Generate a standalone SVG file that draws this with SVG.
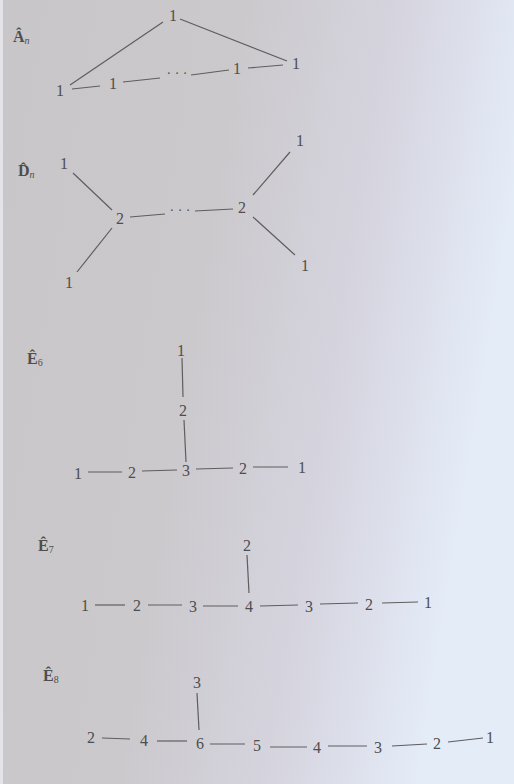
<svg xmlns="http://www.w3.org/2000/svg" width="514" height="784" viewBox="0 0 514 784">
<defs>
<linearGradient id="bg" x1="0" y1="0" x2="1" y2="0.25">
<stop offset="0" stop-color="#c8c6c8"/>
<stop offset="0.45" stop-color="#cbc9cc"/>
<stop offset="0.75" stop-color="#d6d5e0"/>
<stop offset="1" stop-color="#e4ecf8"/>
</linearGradient>
<style>
.n{font-family:"Liberation Serif","DejaVu Serif",serif;font-size:16px;fill:#4e4e4e;text-anchor:middle}
.lbl{font-family:"Liberation Serif","DejaVu Serif",serif;font-size:16px;font-weight:bold;fill:#4e4e4e}
.sub{font-size:10px;font-weight:normal;font-style:italic}
.subr{font-size:10px;font-weight:normal}
.e line{stroke:#5e5e5e;stroke-width:1.2}
.dots{font-family:"Liberation Serif",serif;font-size:14px;fill:#555;text-anchor:middle}
</style>
</defs>
<rect width="514" height="784" fill="url(#bg)"/>
<rect x="0" y="0" width="3" height="784" fill="#e4e4e8"/>

<g id="labels">
<text class="lbl" x="13" y="42">Â<tspan class="sub" dy="2">n</tspan></text>
<text class="lbl" x="18" y="176">D̂<tspan class="sub" dy="2">n</tspan></text>
<text class="lbl" x="27" y="364">Ê<tspan class="subr" dy="2">6</tspan></text>
<text class="lbl" x="38" y="551">Ê<tspan class="subr" dy="2">7</tspan></text>
<text class="lbl" x="43" y="681">Ê<tspan class="subr" dy="2">8</tspan></text>
</g>

<g id="connectors" class="e">
<line x1="70" y1="85" x2="163" y2="22"/>
<line x1="180" y1="19" x2="287" y2="61"/>
<line x1="72" y1="89" x2="100" y2="86"/>
<line x1="123" y1="82" x2="160" y2="78"/>
<line x1="191" y1="75" x2="229" y2="70"/>
<line x1="248" y1="68" x2="283" y2="65"/>
<line x1="73" y1="173" x2="112" y2="210"/>
<line x1="112" y1="228" x2="77" y2="272"/>
<line x1="130" y1="217" x2="165" y2="214"/>
<line x1="195" y1="211" x2="233" y2="209"/>
<line x1="253" y1="195" x2="290" y2="152"/>
<line x1="253" y1="217" x2="295" y2="255"/>
<line x1="182" y1="358" x2="183" y2="397"/>
<line x1="184" y1="420" x2="186" y2="462"/>
<line x1="88" y1="472" x2="122" y2="472"/>
<line x1="142" y1="471" x2="177" y2="470"/>
<line x1="196" y1="469" x2="233" y2="468"/>
<line x1="253" y1="467" x2="288" y2="467"/>
<line x1="247" y1="555" x2="249" y2="593"/>
<line x1="95" y1="605" x2="125" y2="605"/>
<line x1="148" y1="605" x2="182" y2="605"/>
<line x1="203" y1="606" x2="238" y2="606"/>
<line x1="260" y1="606" x2="298" y2="605"/>
<line x1="320" y1="604" x2="358" y2="603"/>
<line x1="382" y1="603" x2="418" y2="602"/>
<line x1="197" y1="693" x2="199" y2="730"/>
<line x1="102" y1="738" x2="130" y2="739"/>
<line x1="157" y1="741" x2="187" y2="741"/>
<line x1="210" y1="744" x2="245" y2="744"/>
<line x1="270" y1="747" x2="307" y2="747"/>
<line x1="328" y1="746" x2="367" y2="746"/>
<line x1="392" y1="746" x2="427" y2="744"/>
<line x1="448" y1="742" x2="483" y2="738"/>
</g>

<g id="An">
<g id="an-top"><text class="n" x="173" y="21">1</text></g>
<g id="an-right"><text class="n" x="296" y="69">1</text></g>
<g id="an-bl"><text class="n" x="60" y="96">1</text></g>
<g id="an-2"><text class="n" x="113" y="89">1</text></g>
<g id="an-dots"><text class="dots" x="177" y="78">· · ·</text></g>
<g id="an-n"><text class="n" x="237" y="74">1</text></g>
</g>

<g id="Dn">
<g id="dn-tl"><text class="n" x="64" y="169">1</text></g>
<g id="dn-bl"><text class="n" x="69" y="288">1</text></g>
<g id="dn-l2"><text class="n" x="120" y="224">2</text></g>
<g id="dn-dots"><text class="dots" x="180" y="215">· · ·</text></g>
<g id="dn-r2"><text class="n" x="242" y="213">2</text></g>
<g id="dn-tr"><text class="n" x="300" y="146">1</text></g>
<g id="dn-br"><text class="n" x="305" y="271">1</text></g>
</g>

<g id="E6">
<g id="e6-t1"><text class="n" x="181" y="356">1</text></g>
<g id="e6-t2"><text class="n" x="183" y="416">2</text></g>
<g id="e6-c"><text class="n" x="186" y="476">3</text></g>
<g id="e6-l1"><text class="n" x="78" y="479">1</text></g>
<g id="e6-l2"><text class="n" x="132" y="478">2</text></g>
<g id="e6-r2"><text class="n" x="243" y="474">2</text></g>
<g id="e6-r1"><text class="n" x="302" y="473">1</text></g>
</g>

<g id="E7">
<g id="e7-t"><text class="n" x="247" y="551">2</text></g>
<g id="e7-1"><text class="n" x="85" y="611">1</text></g>
<g id="e7-2"><text class="n" x="137" y="611">2</text></g>
<g id="e7-3"><text class="n" x="193" y="612">3</text></g>
<g id="e7-4"><text class="n" x="249" y="612">4</text></g>
<g id="e7-5"><text class="n" x="309" y="612">3</text></g>
<g id="e7-6"><text class="n" x="369" y="610">2</text></g>
<g id="e7-7"><text class="n" x="428" y="608">1</text></g>
</g>

<g id="E8">
<g id="e8-t"><text class="n" x="197" y="688">3</text></g>
<g id="e8-1"><text class="n" x="91" y="743">2</text></g>
<g id="e8-2"><text class="n" x="144" y="746">4</text></g>
<g id="e8-3"><text class="n" x="200" y="749">6</text></g>
<g id="e8-4"><text class="n" x="257" y="751">5</text></g>
<g id="e8-5"><text class="n" x="317" y="753">4</text></g>
<g id="e8-6"><text class="n" x="378" y="753">3</text></g>
<g id="e8-7"><text class="n" x="437" y="749">2</text></g>
<g id="e8-8"><text class="n" x="490" y="743">1</text></g>
</g>
</svg>
